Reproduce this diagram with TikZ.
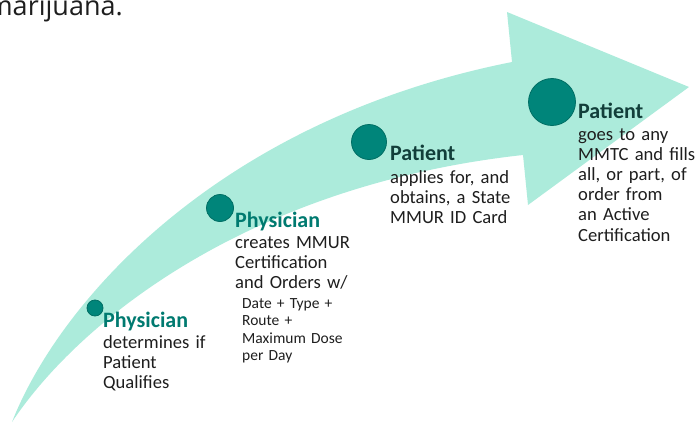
\documentclass[tikz,border=0pt]{standalone}
\usepackage{fontspec}
\setmainfont{Carlito}
\newfontfamily\topfont{Open Sans}
\definecolor{band}{RGB}{172,235,219}
\definecolor{dotc}{RGB}{0,133,122}
\definecolor{dotedge}{RGB}{0,110,100}
\definecolor{phys}{RGB}{0,122,112}
\definecolor{pat}{RGB}{18,62,58}
\definecolor{bodyc}{RGB}{30,30,30}
\begin{document}
\begin{tikzpicture}[x=1pt,y=-1pt,
  dotnode/.style={circle,fill=dotc,draw=dotedge,line width=0.8pt,inner sep=0pt,minimum size=#1},
  headtext/.style={anchor=base west,inner sep=0pt,font=\fontsize{22}{24}\selectfont\bfseries},
  bodytext/.style={anchor=base west,inner sep=0pt,align=left,text width=160pt,font=\fontsize{18.6}{20.2}\selectfont,text=bodyc},
  smalltext/.style={anchor=base west,inner sep=0pt,align=left,text width=130pt,font=\fontsize{15.5}{17.5}\selectfont,text=bodyc}]
\useasboundingbox (0,0) rectangle (695,423);
\clip (0,0) rectangle (695,423);
% top text
\node[anchor=base east,inner sep=0pt,font=\topfont\fontsize{27}{30}\selectfont,text=bodyc] (toptext) at (123,15) {marijuana.};
% arrow
\fill[band] (12,422) .. controls (60,300) and (220,120) .. (512,62) -- (507,12) -- (689,87) -- (528,205) -- (523,155) .. controls (250,185) and (80,320) .. (12,422) -- cycle;
% dots
\node[dotnode=16pt] (d1) at (95,308) {};
\node[dotnode=27pt] (d2) at (220,208) {};
\node[dotnode=35pt] (d3) at (369,142) {};
\node[dotnode=47pt] (d4) at (552,102) {};
% block 1
\node[headtext,text=phys] (h1) at (103,327) {Physician};
\node[bodytext] (t1) at (103,348) {determines if\\Patient\\Qualifies};
% block 2
\node[headtext,text=phys] (h2) at (235,227) {Physician};
\node[bodytext] (t2) at (235,248) {creates MMUR\\Certification\\and Orders w/};
\node[smalltext] (s2) at (242,308) {Date + Type +\\Route +\\Maximum Dose\\per Day};
% block 3
\node[headtext,text=pat] (h3) at (390,160) {Patient};
\node[bodytext] (t3) at (390,183) {applies for, and\\obtains, a State\\MMUR ID Card};
% block 4
\node[headtext,text=pat] (h4) at (578,118) {Patient};
\node[bodytext] (t4) at (578,140) {goes to any\\MMTC and fills\\all, or part, of\\order from\\an Active\\Certification};
\end{tikzpicture}
\end{document}
